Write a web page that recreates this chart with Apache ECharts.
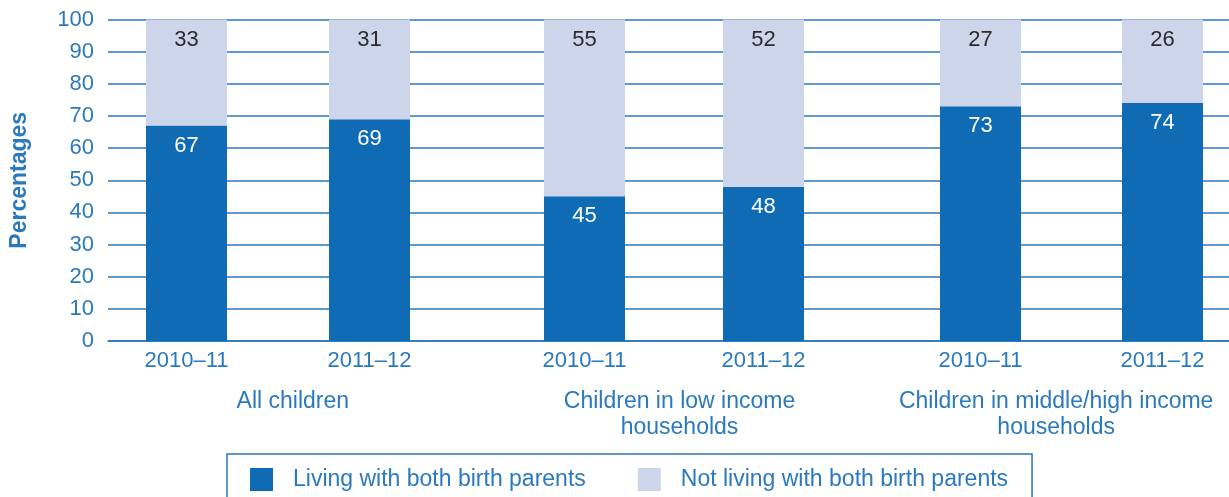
<!DOCTYPE html>
<html>
<head>
<meta charset="utf-8">
<script src="https://cdn.jsdelivr.net/npm/echarts@6/dist/echarts.min.js"></script>
<style>
  html, body { margin: 0; padding: 0; background: #ffffff; }
  #chart { width: 1229px; height: 497px; }
</style>
</head>
<body>
<div id="chart"></div>
<script>
// Share of children living with both birth parents, by household income
const years = ['2010–11', '2011–12'];
const groups = ['All children', 'Children in low income\nhouseholds', 'Children in middle/high income\nhouseholds'];
const allLiving = [67, 69];
const allNotLiving = [33, 31];
const lowLiving = [45, 48];
const lowNotLiving = [55, 52];
const midHighLiving = [73, 74];
const midHighNotLiving = [27, 26];
const yTicks = [0, 10, 20, 30, 40, 50, 60, 70, 80, 90, 100];

const LIVING = 'Living with both birth parents';
const NOT_LIVING = 'Not living with both birth parents';
const DARK = '#0f6cb4';
const LIGHT = '#cdd5eb';
const BLUE_TEXT = '#2b79be';
const LINE = '#2a76bb';
const FONT = '"Liberation Sans", Arial, Helvetica, sans-serif';
const NUM_SIZE = 22;
const WORD_SIZE = 23;

const plotTop = 19.5, plotBottom = 156;
// grid 0 carries the value axis and gridlines; grids 1-3 hold one group each,
// spanning from the first bar centre to the second
const grids = [
  { left: 108, right: 0, top: plotTop, bottom: plotBottom },
  { left: 186.5, width: 183, top: plotTop, bottom: plotBottom },
  { left: 584.5, width: 179, top: plotTop, bottom: plotBottom },
  { left: 980.5, width: 182, top: plotTop, bottom: plotBottom }
];
const groupData = [
  [allLiving, allNotLiving],
  [lowLiving, lowNotLiving],
  [midHighLiving, midHighNotLiving]
];
// small horizontal nudges so each group caption sits under its pair of bars
const groupLabelPadding = [[0, 4, 0, 0], [0, 0, 0, 22], [0, 0, 0, 28]];

const xAxes = [{
  type: 'category', gridIndex: 0,
  data: groups.map((name, i) => ({ value: name, textStyle: { padding: groupLabelPadding[i] } })),
  axisLine: { show: true, lineStyle: { color: LINE, width: 1.5 } },
  axisTick: { show: false },
  axisLabel: {
    interval: 0, hideOverlap: false, margin: 48,
    color: BLUE_TEXT, fontSize: WORD_SIZE, fontFamily: FONT, lineHeight: 26
  },
  z: 0
}];
const yAxes = [{
  type: 'value', gridIndex: 0, min: 0, max: 100, interval: 10,
  name: 'Percentages', nameLocation: 'middle', nameGap: 77,
  nameTextStyle: { color: BLUE_TEXT, fontSize: WORD_SIZE, fontWeight: 'bold', fontFamily: FONT },
  axisLine: { show: false }, axisTick: { show: false },
  axisLabel: {
    margin: 14, color: BLUE_TEXT, fontSize: NUM_SIZE, fontFamily: FONT,
    formatter: v => (yTicks.includes(v) ? String(v) : '')
  },
  splitLine: { show: true, lineStyle: { color: LINE, width: 1.5 } }
}];
const series = [];

groupData.forEach((pair, g) => {
  const gi = g + 1;
  xAxes.push({
    type: 'category', gridIndex: gi, data: years, boundaryGap: false,
    axisLine: { show: false }, axisTick: { show: false },
    axisLabel: { interval: 0, margin: 9, color: BLUE_TEXT, fontSize: NUM_SIZE, fontFamily: FONT }
  });
  yAxes.push({ type: 'value', gridIndex: gi, min: 0, max: 100, show: false, splitLine: { show: false } });
  series.push({
    name: LIVING, type: 'bar', stack: 'g' + g, xAxisIndex: gi, yAxisIndex: gi,
    data: pair[0], barWidth: 81, itemStyle: { color: DARK },
    label: { show: true, position: 'insideTop', distance: 9, color: '#ffffff', fontSize: NUM_SIZE, fontFamily: FONT },
    z: 3
  });
  series.push({
    name: NOT_LIVING, type: 'bar', stack: 'g' + g, xAxisIndex: gi, yAxisIndex: gi,
    data: pair[1], barWidth: 81, itemStyle: { color: LIGHT },
    label: { show: true, position: 'insideTop', distance: 9, color: '#2b2b2b', fontSize: NUM_SIZE, fontFamily: FONT },
    z: 3
  });
});

const chart = echarts.init(document.getElementById('chart'), null, { renderer: 'canvas' });
chart.setOption({
  animation: false,
  backgroundColor: '#ffffff',
  grid: grids,
  xAxis: xAxes,
  yAxis: yAxes,
  legend: {
    data: [LIVING, NOT_LIVING],
    left: 227, top: 454,
    padding: [14, 24, 14, 23],
    borderColor: LINE, borderWidth: 1.5, borderRadius: 0,
    itemWidth: 23, itemHeight: 23, itemGap: 52,
    icon: 'rect',
    selectedMode: false,
    textStyle: { color: BLUE_TEXT, fontSize: WORD_SIZE, fontFamily: FONT, padding: [0, 0, 0, 15] }
  },
  series: series
});
</script>
</body>
</html>
